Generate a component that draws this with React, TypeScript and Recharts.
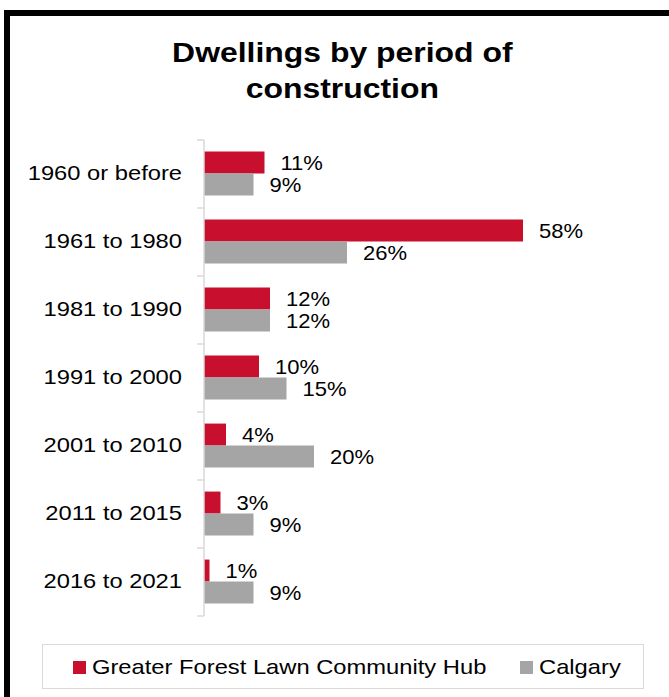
import { BarChart, Bar, XAxis, YAxis, LabelList } from 'recharts';

const periods = [
  '1960 or before',
  '1961 to 1980',
  '1981 to 1990',
  '1991 to 2000',
  '2001 to 2010',
  '2011 to 2015',
  '2016 to 2021',
];
const hubValues = [11, 58, 12, 10, 4, 3, 1];
const calgaryValues = [9, 26, 12, 15, 20, 9, 9];
const xTicks = [0, 60];

const HUB = 'Greater Forest Lawn Community Hub';
const CITY = 'Calgary';
const RED = '#C8102E';
const GREY = '#A5A5A5';
const FONT = "'Liberation Sans', Arial, sans-serif";
const SX = 1.13; // reference text is a bit wide

const data = periods.map((p, i) => ({
  period: p,
  hub: hubValues[i],
  calgary: calgaryValues[i],
}));

const W = 669;
const H = 697;
const margin = { top: 140, right: 135, bottom: 81, left: 0 };
const AXIS_W = 204;
const band = (H - margin.top - margin.bottom) / periods.length;

const CatTick = (props: any) => {
  const { y, payload, index } = props;
  const ax = margin.left + AXIS_W;
  return (
    <g>
      <text
        transform={`translate(${ax - 22},${y}) scale(${SX},1)`}
        textAnchor="end"
        dy="0.3em"
        fontSize={21}
        fontFamily={FONT}
        fill="#000"
      >
        {payload.value}
      </text>
      <line x1={ax - 7} x2={ax} y1={y - band / 2} y2={y - band / 2} stroke="#D9D9D9" strokeWidth={1.5} />
      {index === periods.length - 1 && (
        <line x1={ax - 7} x2={ax} y1={y + band / 2} y2={y + band / 2} stroke="#D9D9D9" strokeWidth={1.5} />
      )}
    </g>
  );
};

const BarValue = (props: any) => {
  const { x, y, width, height, value } = props;
  return (
    <text
      transform={`translate(${x + width + 16},${y + height / 2}) scale(1.1,1)`}
      dy="0.35em"
      fontSize={20}
      fontFamily={FONT}
      fill="#000"
    >
      {value}%
    </text>
  );
};

const LegendItem = ({ color, label, left }: { color: string; label: string; left: number }) => (
  <div style={{ position: 'absolute', left, top: 0, height: 44, display: 'flex', alignItems: 'center' }}>
    <div style={{ width: 13, height: 13, background: color, marginRight: 6 }} />
    <span
      style={{
        display: 'inline-block',
        fontSize: 21,
        fontFamily: FONT,
        color: '#000',
        transform: `scaleX(${SX})`,
        transformOrigin: 'left center',
        whiteSpace: 'nowrap',
      }}
    >
      {label}
    </span>
  </div>
);

export default function App() {
  return (
    <div style={{ position: 'absolute', left: 0, top: 0, width: W, height: H, overflow: 'hidden', background: '#fff' }}>
      <div
        style={{
          position: 'absolute',
          left: 4,
          top: 10,
          width: 720,
          height: 740,
          border: '6px solid #000',
          boxSizing: 'border-box',
        }}
      />
      <div
        style={{
          position: 'absolute',
          left: 0,
          top: 35,
          width: 684,
          textAlign: 'center',
          fontFamily: FONT,
          fontWeight: 'bold',
          fontSize: 28,
          lineHeight: '36px',
          color: '#000',
        }}
      >
        <span style={{ display: 'inline-block', transform: 'scaleX(1.14)' }}>
          Dwellings by period of
          <br />
          construction
        </span>
      </div>
      <div style={{ position: 'absolute', left: 0, top: 0 }}>
        <BarChart
          width={W}
          height={H}
          data={data}
          layout="vertical"
          margin={margin}
          barCategoryGap="17%"
          barGap={0}
        >
          <XAxis type="number" domain={[xTicks[0], xTicks[1]]} ticks={xTicks} hide />
          <YAxis
            type="category"
            dataKey="period"
            width={AXIS_W}
            axisLine={{ stroke: '#D9D9D9', strokeWidth: 1.5 }}
            tickLine={false}
            tick={<CatTick />}
            interval={0}
          />
          <Bar dataKey="hub" name={HUB} fill={RED} isAnimationActive={false}>
            <LabelList dataKey="hub" content={<BarValue />} />
          </Bar>
          <Bar dataKey="calgary" name={CITY} fill={GREY} isAnimationActive={false}>
            <LabelList dataKey="calgary" content={<BarValue />} />
          </Bar>
        </BarChart>
      </div>
      <div
        style={{
          position: 'absolute',
          left: 42,
          top: 644,
          width: 602,
          height: 45,
          border: '1.5px solid #D9D9D9',
          boxSizing: 'border-box',
        }}
      >
        <LegendItem color={RED} label={HUB} left={30} />
        <LegendItem color={GREY} label={CITY} left={477} />
      </div>
    </div>
  );
}
